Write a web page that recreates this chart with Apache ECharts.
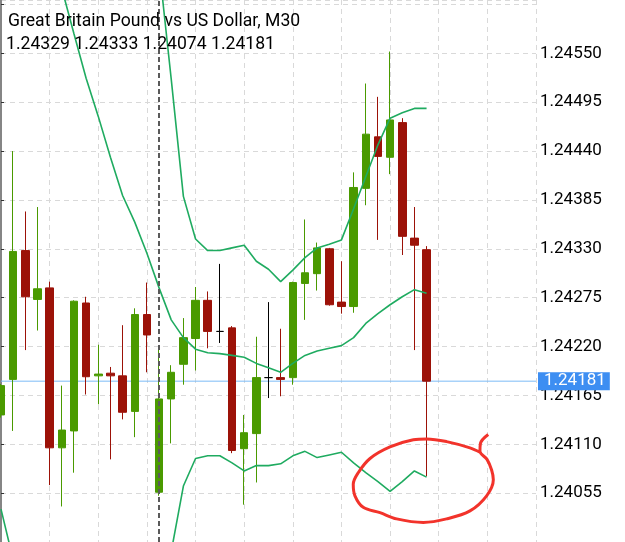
<!DOCTYPE html>
<html>
<head>
<meta charset="utf-8">
<script src="https://cdn.jsdelivr.net/npm/echarts@6/dist/echarts.min.js"></script>
<style>
  html, body { margin: 0; padding: 0; background: #ffffff; }
  #chart { width: 625px; height: 542px; }
</style>
</head>
<body>
<div id="chart"></div>
<script>
// ---- data ----
const titleText = 'Great Britain Pound vs US Dollar, M30';
const quoteText = '1.24329 1.24333 1.24074 1.24181';
const lastPrice = 1.24181;
const separatorIndex = 13;

const categories = ['17:30','18:00','18:30','19:00','19:30','20:00','20:30','21:00','21:30','22:00','22:30','23:00','23:30',
  '00:00','00:30','01:00','01:30','02:00','02:30','03:00','03:30','04:00','04:30','05:00','05:30','06:00','06:30','07:00',
  '07:30','08:00','08:30','09:00','09:30','10:00','10:30','11:00','11:30','12:00','12:30','13:00','13:30','14:00','14:30',
  '15:00','15:30'];

const opens  = [1.24143,1.24183,1.24328,1.24273,1.24286,1.24106,1.24125,1.24269,1.24187,1.24190,1.24187,1.24147,1.24256,
                1.24056,1.24161,1.24200,1.24229,1.24272,1.24237,1.24241,1.24105,1.24122,1.24185,1.24185,1.24185,1.24291,
                1.24302,1.24330,1.24270,1.24265,1.24398,1.24456,1.24433,1.24472,1.24342,1.24329];
const highs  = [1.24178,1.24440,1.24372,1.24377,1.24293,1.24176,1.24272,1.24276,1.24222,1.24197,1.24244,1.24263,1.24292,
                1.24221,1.24199,1.24252,1.24287,1.24282,1.24313,1.24243,1.24143,1.24231,1.24270,1.24240,1.24293,1.24363,
                1.24337,1.24331,1.24316,1.24416,1.24516,1.24501,1.24552,1.24477,1.24377,1.24333];
const lows   = [1.24140,1.24125,1.24216,1.24238,1.24064,1.24040,1.24078,1.24166,1.24155,1.24093,1.24138,1.24118,1.24191,
                1.24052,1.24111,1.24177,1.24193,1.24218,1.24224,1.24100,1.24042,1.24067,1.24162,1.24164,1.24177,1.24250,
                1.24283,1.24266,1.24257,1.24258,1.24379,1.24340,1.24414,1.24323,1.24216,1.24074];
const closes = [1.24176,1.24327,1.24276,1.24285,1.24106,1.24126,1.24271,1.24186,1.24189,1.24187,1.24146,1.24256,1.24233,
                1.24161,1.24191,1.24230,1.24272,1.24237,1.24237,1.24103,1.24123,1.24185,1.24185,1.24183,1.24292,1.24303,
                1.24331,1.24267,1.24265,1.24399,1.24459,1.24434,1.24475,1.24344,1.24334,1.24181];

const upperBand  = [null,null,null,null,null,null,null,null,null,null,null,null,1.24760,
                    1.24648,1.24521,1.24389,1.24341,1.24328,1.24328,1.24331,1.24334,1.24316,1.24307,1.24293,1.24306,
                    1.24320,1.24331,1.24335,1.24340,1.24375,1.24411,1.24447,1.24477,1.24483,1.24488,1.24488];
const middleBand = [null,null,null,null,1.24680,1.24623,1.24572,1.24522,1.24479,1.24433,1.24390,1.24360,1.24325,
                    1.24286,1.24250,1.24230,1.24217,1.24213,1.24212,1.24210,1.24208,1.24201,1.24196,1.24191,1.24201,
                    1.24210,1.24215,1.24218,1.24221,1.24230,1.24246,1.24257,1.24267,1.24276,1.24284,1.24280];
const lowerBand  = [1.24037,1.23980,null,null,null,null,null,null,null,null,null,null,1.23890,
                    1.23924,1.23989,1.24063,1.24094,1.24097,1.24097,1.24089,1.24080,1.24086,1.24086,1.24088,1.24097,
                    1.24102,1.24095,1.24098,1.24101,1.24089,1.24078,1.24068,1.24057,1.24068,1.24080,1.24073];

// hand-drawn red loop annotation (bar index, price)
const circleIdx   = [40.07,39.43,39.39,39.97,40.35,40.49,39.94,38.57,36.65,34.73,32.54,31.17,29.79,29.11,28.97,29.38,30.35,31.99,33.91,35.01,36.65,38.57,39.39];
const circlePrice = [1.24121,1.24111,1.24102,1.24093,1.24081,1.24070,1.24052,1.24035,1.24026,1.24022,1.24026,1.24033,1.24039,1.24052,1.24065,1.24078,1.24094,1.24107,1.24115,1.24116,1.24113,1.24106,1.24101];

const yMin = 1.24000, yMax = 1.24610, yStep = 0.00055;

// ---- build ----
const candleData = opens.map((o, i) => [o, closes[i], lows[i], highs[i]]);
const circleData = circleIdx.map((x, i) => [x, circlePrice[i]]);
const lastIdx = categories.length - 1;
const priceLineData = [[0, lastPrice], [lastIdx, lastPrice]];

const GREEN = '#4a9a00', RED = '#9c1208', BAND = '#1fab60';
const gridDash = { color: '#d9d9d9', width: 1, type: [5, 4] };

const chart = echarts.init(document.getElementById('chart'), null, { renderer: 'canvas' });
chart.setOption({
  animation: false,
  backgroundColor: '#ffffff',
  grid: { left: 1, right: 89, top: 0, bottom: -4, containLabel: false },
  xAxis: [
    {
      type: 'category', data: categories, boundaryGap: false,
      axisLine: { show: false }, axisTick: { show: false }, axisLabel: { show: false },
      splitLine: { show: true, interval: 3, lineStyle: gridDash }
    },
    { type: 'value', min: 0, max: lastIdx, show: false, position: 'top' }
  ],
  yAxis: {
    type: 'value', position: 'right', min: yMin, max: yMax, interval: yStep, scale: true,
    axisLine: { show: true, lineStyle: { color: '#858585', width: 2 } },
    axisTick: { show: true, length: 3, lineStyle: { color: '#333' } },
    axisLabel: {
      show: true, margin: 4, color: '#000', fontSize: 17, fontFamily: 'Roboto',
      showMinLabel: false, showMaxLabel: false,
      formatter: v => (v > 1.2460 || v < 1.2402) ? '' : v.toFixed(5)
    },
    splitLine: { show: true, lineStyle: gridDash }
  },
  graphic: [
    { type: 'text', left: 8, top: 13, z: 100,
      style: { text: titleText, fill: '#000', font: '17.6px Roboto' } },
    { type: 'text', left: 6, top: 36, z: 100,
      style: { text: quoteText, fill: '#000', font: '17.6px Roboto' } }
  ],
  series: [
    {
      type: 'candlestick', data: candleData, barWidth: 8, z: 2,
      itemStyle: {
        color: GREEN, color0: RED, borderColor: GREEN, borderColor0: RED,
        borderColorDoji: '#000', borderWidth: 1
      },
      markLine: {
        silent: true, symbol: 'none', animation: false,
        data: [
          { xAxis: categories[separatorIndex],
            lineStyle: { color: '#5a5a5a', width: 2, type: [5, 3] }, label: { show: false } }
        ]
      }
    },
    { type: 'line', data: upperBand, symbol: 'none', connectNulls: false, z: 3,
      lineStyle: { color: BAND, width: 1.6 } },
    { type: 'line', data: middleBand, symbol: 'none', connectNulls: false, z: 3,
      lineStyle: { color: BAND, width: 1.6 } },
    { type: 'line', data: lowerBand, symbol: 'none', connectNulls: false, z: 3,
      lineStyle: { color: BAND, width: 1.6 } },
    { type: 'line', xAxisIndex: 1, data: priceLineData, symbol: 'none', z: 1, silent: true,
      clip: false,
      lineStyle: { color: '#7dbcf7', width: 1 },
      endLabel: { show: true, distance: 2, formatter: () => lastPrice.toFixed(5),
                  color: '#fff', backgroundColor: '#3d8ef2', fontSize: 17, fontFamily: 'Roboto',
                  padding: [0, 4, 0, 6], lineHeight: 18 } },
    { type: 'line', xAxisIndex: 1, data: circleData, symbol: 'none', smooth: 0.35, z: 5,
      lineStyle: { color: '#f2332b', width: 3 } }
  ]
});
</script>
</body>
</html>
